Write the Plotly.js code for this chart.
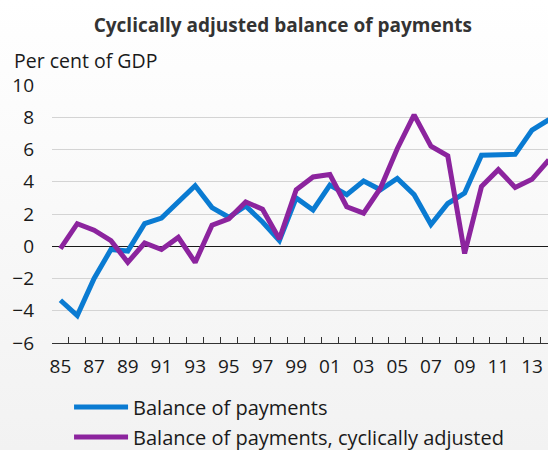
<!DOCTYPE html>
<html>
<head>
<meta charset="utf-8">
<script src="https://cdn.plot.ly/plotly-3.0.1.min.js"></script>
<style>
  html, body { margin: 0; padding: 0; width: 548px; height: 450px; overflow: hidden;
    background: linear-gradient(to bottom, #ffffff 0%, #f2f2f2 100%); }
  #chart { width: 548px; height: 450px; }
</style>
</head>
<body>
<div id="chart"></div>
<script>
const years = [1985,1986,1987,1988,1989,1990,1991,1992,1993,1994,1995,1996,1997,1998,1999,2000,2001,2002,2003,2004,2005,2006,2007,2008,2009,2010,2011,2012,2013,2014];
const balanceOfPayments = [-3.35,-4.3,-2.0,-0.2,-0.3,1.4,1.75,2.8,3.75,2.4,1.8,2.5,1.5,0.35,3.0,2.25,3.8,3.2,4.05,3.5,4.2,3.2,1.35,2.65,3.3,5.65,5.7,5.7,7.2,7.85];
const cyclicallyAdjusted = [-0.15,1.4,1.0,0.35,-1.0,0.2,-0.2,0.55,-1.0,1.3,1.7,2.75,2.3,0.45,3.5,4.3,4.45,2.45,2.05,3.6,6.05,8.15,6.2,5.6,-0.45,3.7,4.75,3.65,4.15,5.35];
const tickYears = [1985,1987,1989,1991,1993,1995,1997,1999,2001,2003,2005,2007,2009,2011,2013];
const tickLabels = ["85","87","89","91","93","95","97","99","01","03","05","07","09","11","13"];

const FONT = '"Open Sans", "Noto Sans", sans-serif';
const XRANGE = [1984.5, 2013.95];

const traces = [
  { x: years, y: balanceOfPayments, type: 'scatter', mode: 'lines', name: 'Balance of payments',
    legendgroup: 'a', line: { color: '#0a7bd2', width: 5 } },
  { x: years, y: cyclicallyAdjusted, type: 'scatter', mode: 'lines', name: 'Balance of payments, cyclically adjusted',
    legendgroup: 'b', line: { color: '#8c249e', width: 5 } },
  { x: [], y: [], type: 'scatter', mode: 'lines', xaxis: 'x2', yaxis: 'y', showlegend: false, hoverinfo: 'skip' }
];

const layout = {
  width: 548, height: 450,
  margin: { l: 52, r: 0, t: 85, b: 107, autoexpand: false },
  paper_bgcolor: 'rgba(0,0,0,0)', plot_bgcolor: 'rgba(0,0,0,0)',
  font: { family: FONT, color: '#1a1a1a', size: 19 },
  title: { text: '<b>Cyclically adjusted balance of payments</b>', font: { family: FONT, size: 19, color: '#333333' },
    xref: 'container', yref: 'container', x: 0.516, xanchor: 'center', y: 0.944, yanchor: 'middle' },
  showlegend: true,
  legend: { orientation: 'v', xref: 'container', yref: 'container', x: 0.126, xanchor: 'left', y: 0.139, yanchor: 'top',
    bgcolor: 'rgba(0,0,0,0)', font: { family: FONT, size: 20, color: '#1a1a1a' },
    itemwidth: 54, tracegroupgap: 1 },
  xaxis: {
    range: XRANGE, fixedrange: true,
    tickmode: 'array', tickvals: tickYears, ticktext: tickLabels,
    ticks: '', ticklabelstandoff: 10,
    showgrid: false, zeroline: false, showline: false,
    tickfont: { family: FONT, size: 19, color: '#1a1a1a' }
  },
  xaxis2: {
    range: XRANGE, fixedrange: true, overlaying: 'x', anchor: 'y', side: 'bottom',
    tickmode: 'linear', tick0: 1984.5, dtick: 1,
    ticks: 'inside', ticklen: 6, tickwidth: 1, tickcolor: '#333333',
    showticklabels: false, showgrid: false, zeroline: false,
    showline: true, linecolor: '#333333', linewidth: 1
  },
  yaxis: {
    range: [-6, 10], fixedrange: true,
    tickmode: 'linear', tick0: -6, dtick: 2,
    ticks: '', ticklabelstandoff: 17,
    showgrid: true, gridcolor: '#d4d4d4', gridwidth: 1,
    zeroline: true, zerolinecolor: '#1a1a1a', zerolinewidth: 1,
    showline: false,
    tickfont: { family: FONT, size: 19, color: '#1a1a1a' }
  },
  annotations: [
    { text: 'Per cent of GDP', xref: 'paper', yref: 'paper', x: 0, y: 1, xshift: -40, yshift: 25,
      xanchor: 'left', yanchor: 'middle', showarrow: false, font: { family: FONT, size: 19.5, color: '#1a1a1a' } }
  ]
};

Plotly.newPlot('chart', traces, layout, { displayModeBar: false, staticPlot: true });
</script>
</body>
</html>
